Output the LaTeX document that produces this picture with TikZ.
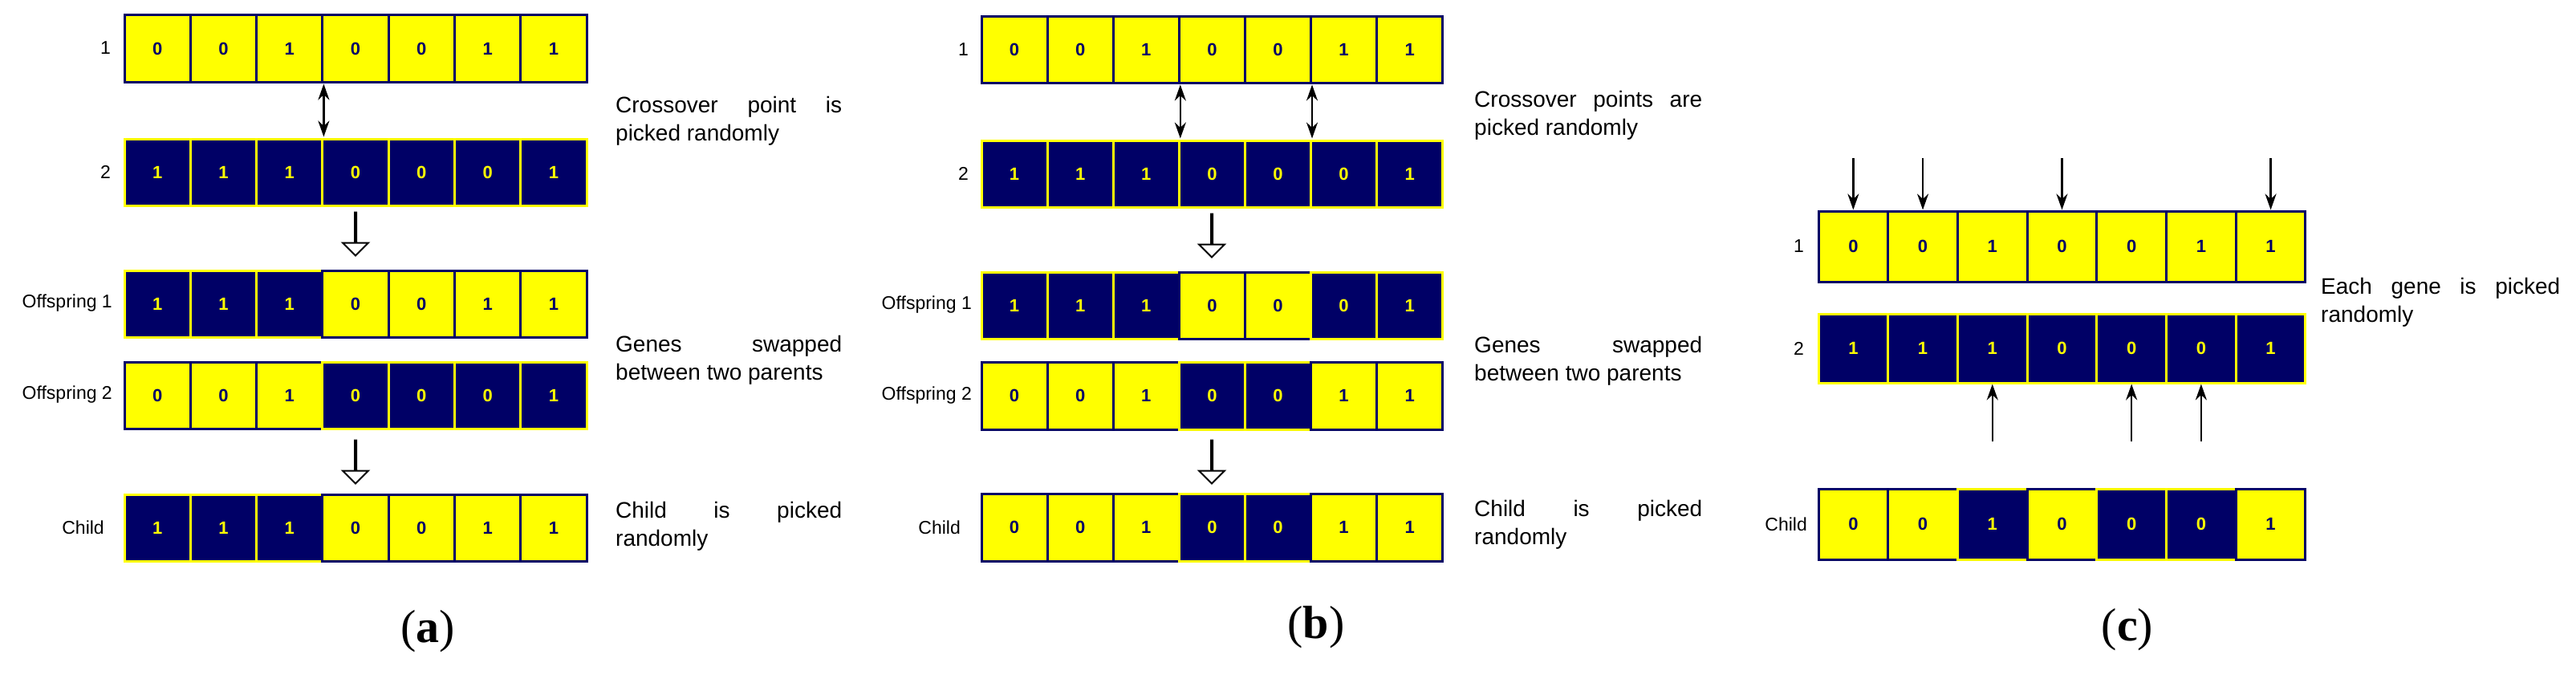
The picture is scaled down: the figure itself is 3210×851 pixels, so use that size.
\documentclass[tikz,border=0pt]{standalone}
\usepackage{fontspec}
\setmainfont{Liberation Serif}
\setsansfont{Liberation Sans}
\usetikzlibrary{shapes.arrows,arrows.meta,calc}
\definecolor{navy}{RGB}{0,0,102}
\definecolor{yel}{RGB}{255,255,0}
\tikzset{
  cellY/.style={draw=navy,fill=yel,text=navy,line width=3pt,inner sep=0pt,font=\fontsize{22}{22}\selectfont\sffamily\bfseries},
  cellN/.style={draw=yel,fill=navy,text=yel,line width=3pt,inner sep=0pt,font=\fontsize{22}{22}\selectfont\sffamily\bfseries},
  lab/.style={anchor=east,inner sep=0pt,font=\fontsize{23}{23}\selectfont\sffamily},
  desc/.style={anchor=north west,inner sep=0pt,align=justify,font=\fontsize{28}{35}\selectfont\sffamily},
  hollow/.style={single arrow,draw=black,fill=white,line width=2pt,shape border rotate=270,minimum height=54pt,minimum width=13pt,single arrow head extend=15pt,inner sep=0pt},
  dbl/.style={{Stealth[length=20pt,width=14pt]}-{Stealth[length=20pt,width=14pt]},line width=2.5pt,shorten <=1pt,shorten >=1pt},
  arr/.style={-{Stealth[length=20pt,width=14pt]},line width=2.5pt},
  sub/.style={font=\fontsize{58}{58}\selectfont}
}
\newcommand\generow[6]{%
  \foreach \d/\c [count=\i] in {#6}{%
    \node[cell\c,minimum width=#4pt,minimum height=#5pt] (#1-\i) at ({#2+(\i-0.5)*#4},{#3+#5/2}) {\d};
  }}
\begin{document}
\begin{tikzpicture}[x=1pt,y=-1pt]
\useasboundingbox (0,0) rectangle (3210,851);
% ---------- (a)
\generow{ar}{155}{19}{82.3}{83}{0/Y,0/Y,1/Y,0/Y,0/Y,1/Y,1/Y}
\generow{as}{155}{173}{82.3}{83}{1/N,1/N,1/N,0/N,0/N,0/N,1/N}
\generow{ao}{155}{337}{82.3}{83}{1/N,1/N,1/N,0/Y,0/Y,1/Y,1/Y}
\generow{ap}{155}{451}{82.3}{83}{0/Y,0/Y,1/Y,0/N,0/N,0/N,1/N}
\generow{ac}{155}{616}{82.3}{83}{1/N,1/N,1/N,0/Y,0/Y,1/Y,1/Y}
\node[lab] (la1) at (138,60) {1};
\node[lab] (la2) at (138,214) {2};
\node[lab] (la3) at (140,378) {Offspring 1};
\node[lab] (la4) at (140,492) {Offspring 2};
\node[lab] (la5) at (130,657) {Child};
\draw[dbl] (ar-3.south east) -- (as-3.north east);
\node[hollow] (ha1) at (443,291) {};
\node[hollow] (ha2) at (443,575) {};
\node[desc,text width=282pt] (ta1) at (767,120) {Crossover\hfill point\hfill is\\picked randomly};
\node[desc,text width=282pt] (ta2) at (767,418) {Genes\hfill swapped\\between two parents};
\node[desc,text width=282pt] (ta3) at (767,625) {Child\hfill is\hfill picked\\randomly};
\node[sub] (sa) at (533,787) {(\textbf{a})};
% ---------- (b)
\generow{br}{1223}{21}{82.1}{82}{0/Y,0/Y,1/Y,0/Y,0/Y,1/Y,1/Y}
\generow{bs}{1223}{175}{82.1}{83}{1/N,1/N,1/N,0/N,0/N,0/N,1/N}
\generow{bo}{1223}{339}{82.1}{83}{1/N,1/N,1/N,0/Y,0/Y,0/N,1/N}
\generow{bp}{1223}{451}{82.1}{84}{0/Y,0/Y,1/Y,0/N,0/N,1/Y,1/Y}
\generow{bc}{1223}{615}{82.1}{84}{0/Y,0/Y,1/Y,0/N,0/N,1/Y,1/Y}
\node[lab] (lb1) at (1207,62) {1};
\node[lab] (lb2) at (1207,216) {2};
\node[lab] (lb3) at (1211,380) {Offspring 1};
\node[lab] (lb4) at (1211,493) {Offspring 2};
\node[lab] (lb5) at (1197,657) {Child};
\draw[dbl] (br-3.south east) -- (bs-3.north east);
\draw[dbl] (br-5.south east) -- (bs-5.north east);
\node[hollow] (hb1) at (1510,293) {};
\node[hollow] (hb2) at (1510,575) {};
\node[desc,text width=284pt] (tb1) at (1837,113) {Crossover\hfill points\hfill are\\picked randomly};
\node[desc,text width=284pt] (tb2) at (1837,419) {Genes\hfill swapped\\between two parents};
\node[desc,text width=284pt] (tb3) at (1837,623) {Child\hfill is\hfill picked\\randomly};
\node[sub] (sb) at (1640,782) {(\textbf{b})};
% ---------- (c)
\generow{cr}{2266}{263}{86.7}{88}{0/Y,0/Y,1/Y,0/Y,0/Y,1/Y,1/Y}
\generow{cs}{2266}{391}{86.7}{86}{1/N,1/N,1/N,0/N,0/N,0/N,1/N}
\generow{cc}{2266}{609}{86.7}{88}{0/Y,0/Y,1/N,0/Y,0/N,0/N,1/Y}
\node[lab] (lc1) at (2248,307) {1};
\node[lab] (lc2) at (2248,434) {2};
\node[lab] (lc3) at (2252,653) {Child};
\foreach \i in {1,2,4,7}{
  \coordinate (cd\i) at ($(cr-\i.north)+(0,-65)$);
}
\foreach \i in {3,5,6}{
  \coordinate (cu\i) at ($(cs-\i.south)+(0,71)$);
}
\foreach \i in {1,2,4,7}{ \draw[arr] (cd\i) -- (cr-\i.north); }
\foreach \i in {3,5,6}{ \draw[arr] (cu\i) -- (cs-\i.south); }
\node[desc,text width=298pt] (tc1) at (2892,346) {Each\hfill gene\hfill is\hfill picked\\randomly};
\node[sub] (sc) at (2651,785) {(\textbf{c})};
\end{tikzpicture}
\end{document}
